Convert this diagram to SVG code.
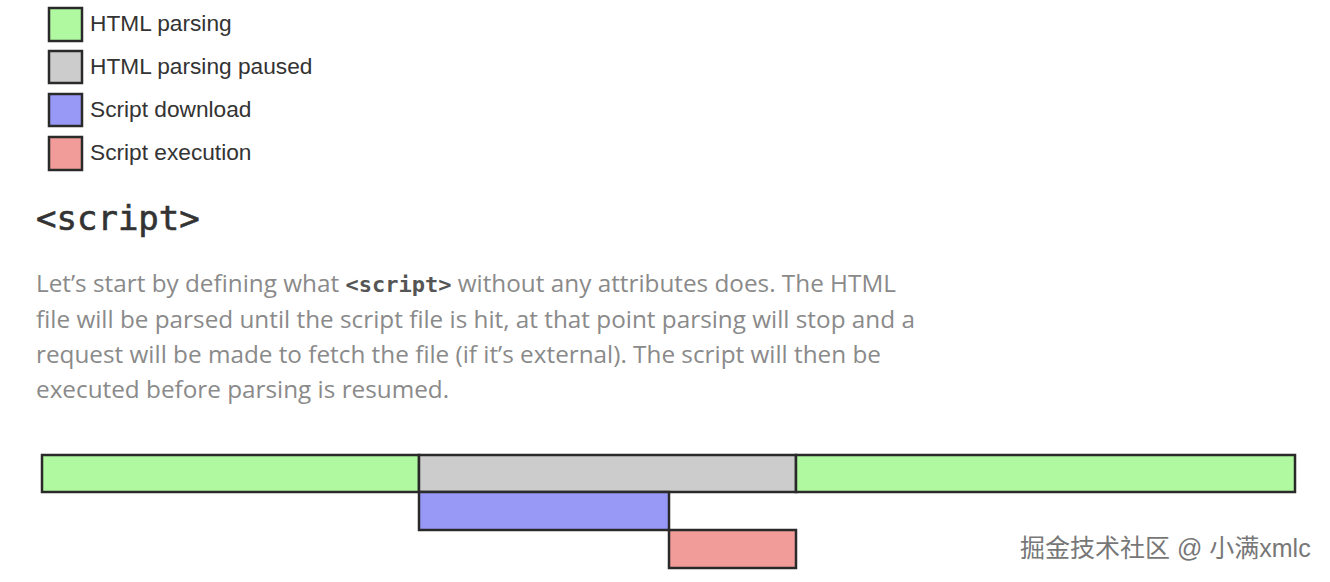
<svg xmlns="http://www.w3.org/2000/svg" width="1330" height="582" viewBox="0 0 1330 582">
<style>
.box{stroke:#2a2a2a;stroke-width:2.5}
.g{fill:#b0f9a0}.p{fill:#cccccc}.b{fill:#9898f6}.r{fill:#f19c99}
.leg{font-family:"Liberation Sans",Arial,sans-serif;font-size:22.7px;fill:#333}
.h{font-family:"DejaVu Sans Mono","Liberation Mono",monospace;font-size:34px;fill:#333;stroke:#333;stroke-width:0.6}
.para{font-family:"Open Sans","Noto Sans",sans-serif;font-size:24.3px;fill:#8a8a8a}
.code{font-family:"DejaVu Sans Mono","Liberation Mono",monospace;font-weight:bold;fill:#555;font-size:22px}
.wm{font-family:"Liberation Sans","Noto Sans CJK SC",sans-serif;font-size:25px;fill:#777;stroke:#fff;stroke-width:0.6;paint-order:stroke}
</style>
<rect width="1330" height="582" fill="#fff"/>
<g id="legend">
<g id="legend-html-parsing"><rect class="box g" x="49" y="8" width="33" height="33"/><text class="leg" x="90" y="31">HTML parsing</text></g>
<g id="legend-paused"><rect class="box p" x="49" y="51" width="33" height="32"/><text class="leg" x="90" y="74">HTML parsing paused</text></g>
<g id="legend-download"><rect class="box b" x="49" y="94" width="33" height="32"/><text class="leg" x="90" y="117">Script download</text></g>
<g id="legend-exec"><rect class="box r" x="49" y="137" width="33" height="33"/><text class="leg" x="90" y="160">Script execution</text></g>
</g>
<text id="heading" class="h" x="36" y="230">&lt;script&gt;</text>
<g id="paragraph" class="para">
<text x="36" y="292">Let’s start by defining what <tspan class="code">&lt;script&gt;</tspan> without any attributes does. The HTML</text>
<text x="36" y="328">file will be parsed until the script file is hit, at that point parsing will stop and a</text>
<text x="36" y="363">request will be made to fetch the file (if it’s external). The script will then be</text>
<text x="36" y="398">executed before parsing is resumed.</text>
</g>
<g id="timeline">
<g id="parse1"><rect class="box g" x="42" y="455" width="377" height="37"/></g>
<g id="paused"><rect class="box p" x="419" y="455" width="377" height="37"/></g>
<g id="parse2"><rect class="box g" x="796" y="455" width="499" height="37"/></g>
<g id="download"><rect class="box b" x="419" y="492" width="250" height="38"/></g>
<g id="exec"><rect class="box r" x="669" y="530" width="127" height="38"/></g>
</g>
<text id="watermark" class="wm" x="1020" y="557">掘金技术社区 @ 小满xmlc</text>
</svg>
